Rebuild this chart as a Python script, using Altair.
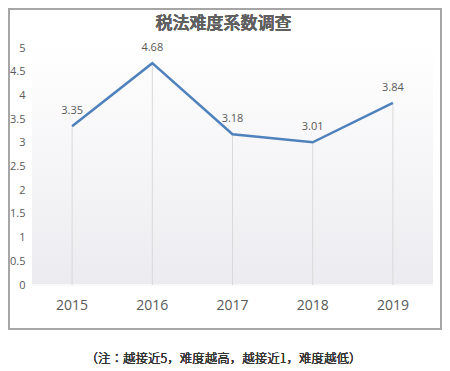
import altair as alt
import pandas as pd

years = ["2015", "2016", "2017", "2018", "2019"]
values = [3.35, 4.68, 3.18, 3.01, 3.84]
labels = ["3.35", "4.68", "3.18", "3.01", "3.84"]
title_text = "税法难度系数调查"
note_text = "（注：越接近5，难度越高，越接近1，难度越低）"

df = pd.DataFrame({"year": years, "value": values, "label": labels})

W, H = 401, 237
PAD_L, PAD_T, PAD_R, PAD_B = 24, 40, 9, 84

x = alt.X("year:N", sort=years, scale=alt.Scale(paddingInner=0, paddingOuter=0),
          axis=alt.Axis(title=None, labelAngle=0, labelFontSize=14, labelColor="#595959",
                        labelFont="Open Sans", ticks=False, domain=False, labelPadding=13, grid=False))
y = alt.Y("value:Q", scale=alt.Scale(domain=[0, 5]),
          axis=alt.Axis(title=None, values=[0, 0.5, 1, 1.5, 2, 2.5, 3, 3.5, 4, 4.5, 5],
                        format="~g",
                        labelFontSize=11, labelColor="#595959", labelFont="Open Sans",
                        ticks=False, domain=False, grid=False, labelPadding=7))

base = alt.Chart(df)

bg = base.mark_rect(
    color=alt.Gradient(gradient="linear", x1=0, y1=0, x2=0, y2=1,
                       stops=[alt.GradientStop(color="#ffffff", offset=0),
                              alt.GradientStop(color="#ececf0", offset=1)])
).encode(x=alt.value(0), x2=alt.value(W), y=alt.value(-8), y2=alt.value(H))

border = base.mark_rect(fill="transparent", stroke="#a6a6a6", strokeWidth=1.5, clip=False).encode(
    x=alt.value(-PAD_L + 1), x2=alt.value(W + PAD_R - 1),
    y=alt.value(-PAD_T + 1), y2=alt.value(H + 44))

baseline = base.mark_rule(color="#f8f8f8", strokeWidth=1).encode(
    x=alt.value(0), x2=alt.value(W), y=alt.value(H))

drops = base.mark_rule(color="#d9d9d9", strokeWidth=1).encode(
    x=x, y=y, y2=alt.datum(0))

line = base.mark_line(color="#4f81bd", strokeWidth=2.5).encode(x=x, y=y)

text = base.mark_text(dy=-15, fontSize=11, color="#595959", font="Open Sans").encode(
    x=x, y=y, text="label:N")

note = base.mark_text(fontSize=12.5, color="#333333", font="Noto Sans CJK JP", fontWeight=300,
                      baseline="middle", clip=False).encode(
    x=alt.value(W / 2 - 24 + 15), y=alt.value(H + 74), text=alt.value(note_text))

title = base.mark_text(fontSize=17, fontWeight=500, color="#606060",
                       font="Noto Sans CJK JP", clip=False).encode(
    x=alt.value(W / 2 - 24 + 15), y=alt.value(-24), text=alt.value(title_text))

chart = alt.layer(bg, border, baseline, drops, line, text, note, title).properties(
    width=W, height=H,
    padding={"left": PAD_L, "top": PAD_T, "right": PAD_R, "bottom": PAD_B},
    autosize=alt.AutoSizeParams(type="none"),
    background="white",
).configure_view(stroke=None)

chart.save("out.html", embed_options={"renderer": "svg", "actions": False})
